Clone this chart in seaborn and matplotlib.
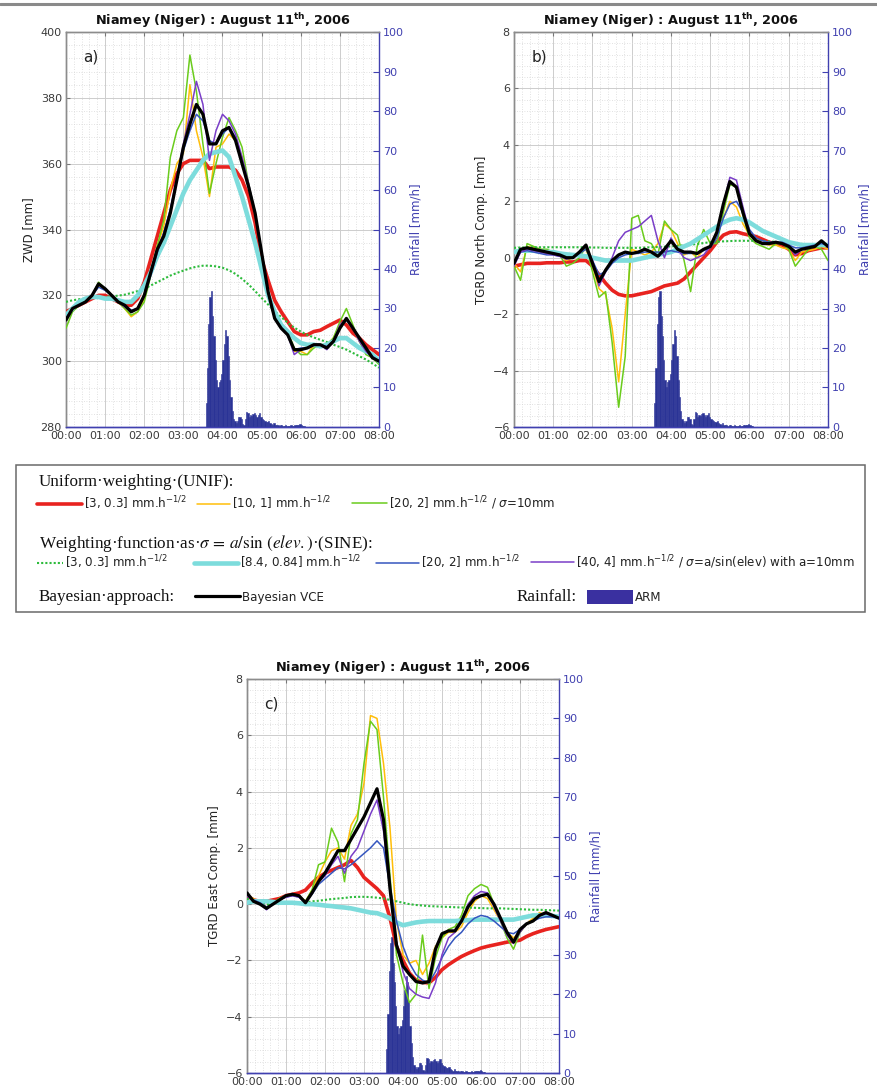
import numpy as np
import matplotlib
matplotlib.use("Agg")
import matplotlib.pyplot as plt
from matplotlib.lines import Line2D
from matplotlib.patches import Patch, Rectangle
from matplotlib.ticker import MultipleLocator, AutoMinorLocator, FuncFormatter
import seaborn as sns

# ---------------------------------------------------------------------------
# Data: GPS tropospheric estimates every 10 minutes (hours after 00:00 UTC)
# ---------------------------------------------------------------------------
minutes = np.arange(0, 481, 10)
hours = minutes / 60.0

# a) zenith wet delay [mm]
zwd_unif_3 = [315, 316, 317, 318, 319, 320,
              320, 319, 318, 317, 317, 319,
              324, 331, 338, 345, 352, 357,
              360, 361, 361, 361, 358.5, 359,
              359, 359, 358, 355, 350, 342,
              331, 324.5, 318.5, 315, 312, 309,
              308, 308, 309, 309.4, 310.5, 311.5,
              312.5, 311, 308.5, 307, 305, 303.5,
              302]
zwd_unif_10 = [313, 316, 317, 318, 320, 323,
               322, 320, 318, 316, 313.5, 315,
               319, 327, 335, 341, 352, 360,
               363, 384, 370, 362, 350, 365,
               366, 369, 367, 362, 353, 345,
               333, 321, 313, 310, 308, 303,
               303, 302, 305, 305, 305, 307,
               311, 313, 310, 306, 303, 301,
               300]
zwd_unif_20 = [310, 315, 317, 318, 320, 324,
               322, 320, 318, 316, 314, 315,
               318, 326, 335, 343, 362, 370,
               374, 393, 382, 366, 351, 360,
               368, 374, 370, 365, 354, 345,
               333, 320, 313, 310, 309, 304,
               302, 302, 304, 305, 305, 307,
               312, 316, 311, 306, 302, 301,
               299]
zwd_sine_3 = [318, 318.5, 318.8, 319, 319.2, 319.4,
              319.5, 319.7, 319.9, 320.2, 320.7, 321.3,
              322, 323, 324, 325, 326, 326.8,
              327.5, 328.2, 328.7, 329, 329, 328.8,
              328.4, 327.6, 326.5, 325, 323.3, 321.3,
              319.2, 317.2, 315.2, 313.4, 311.7, 310.2,
              309, 308, 307.2, 306.5, 305.8, 305,
              304.3, 303.5, 302.5, 301.5, 300.5, 299.3,
              298]
zwd_sine_84 = [314, 316, 318, 319, 319.5, 319.5,
               319, 319, 318.5, 318, 318, 320,
               323, 327, 332, 336, 341, 346,
               351, 355, 358, 361, 363, 363.5,
               364, 362, 356, 350, 343, 336,
               328, 320, 315, 311, 309, 307,
               305.5, 305, 305, 304.5, 305, 306,
               307, 307, 305.5, 304, 303, 302,
               300]
zwd_sine_20 = [313, 316, 317, 318, 320, 322.5,
               321.5, 320, 318, 317, 315.5, 316,
               320, 326, 333, 339, 346, 355,
               364, 370, 375, 373, 367, 366,
               369, 371, 368, 361, 353, 345,
               333, 321, 313, 310, 308, 303.5,
               304, 304, 305, 305, 304.5, 306,
               310, 312.5, 310, 307, 304, 301.5,
               300]
zwd_sine_40 = [313, 316, 317, 318, 320, 323.5,
               322, 320, 318, 316.5, 315, 316,
               320, 327, 334, 339, 346, 356,
               366, 375, 385, 378, 361, 370,
               375, 373, 369, 362, 354, 345,
               333, 321, 313, 310, 308, 302,
               303.5, 304, 305, 305, 303.5, 306,
               311, 313, 310, 306, 303, 301,
               300]
zwd_bayes = [312.5, 316, 317, 318, 320, 323.5,
             322, 320, 318, 317, 315, 316,
             320, 327, 334, 338, 345, 355,
             365, 372, 378, 375, 366, 366,
             370, 371, 367, 360, 353, 345,
             333, 321, 313, 310, 308, 303.5,
             303.5, 304, 305, 305, 304, 306,
             310, 313, 310, 307, 304, 301,
             300]

# b) north gradient component [mm]
north_unif_3 = [-0.3, -0.25, -0.2, -0.2, -0.2, -0.18,
                -0.18, -0.18, -0.15, -0.15, -0.1, -0.1,
                -0.3, -0.6, -0.9, -1.15, -1.3, -1.35,
                -1.35, -1.3, -1.25, -1.2, -1.1, -1.0,
                -0.95, -0.9, -0.75, -0.5, -0.25, 0.0,
                0.25, 0.55, 0.8, 0.9, 0.92, 0.85,
                0.8, 0.75, 0.65, 0.55, 0.5, 0.45,
                0.3, 0.1, 0.15, 0.25, 0.3, 0.35,
                0.35]
north_unif_10 = [-0.2, -0.5, 0.4, 0.35, 0.3, 0.2,
                 0.15, 0.1, -0.1, 0.0, 0.15, 0.3,
                 -0.3, -1.1, -1.3, -2.5, -4.4, -2.0,
                 0.3, 0.2, 0.1, 0.2, 0.5, 1.2,
                 1.0, 0.5, 0.1, 0.2, 0.0, 0.3,
                 0.4, 0.8, 1.4, 2.0, 1.8, 1.2,
                 0.8, 0.7, 0.5, 0.45, 0.45, 0.35,
                 0.3, -0.1, 0.2, 0.25, 0.3, 0.4,
                 0.3]
north_unif_20 = [-0.3, -0.8, 0.5, 0.4, 0.3, 0.3,
                 0.2, 0.1, -0.3, -0.2, 0.0, 0.4,
                 -0.5, -1.4, -1.2, -3.0, -5.3, -3.5,
                 1.4, 1.5, 0.6, 0.5, 0.1, 1.3,
                 1.0, 0.8, -0.1, -1.2, 0.4, 1.0,
                 0.5, 0.5, 1.6, 2.6, 2.5, 1.5,
                 0.7, 0.5, 0.4, 0.3, 0.5, 0.5,
                 0.3, -0.3, 0.0, 0.3, 0.4, 0.3,
                 -0.1]
north_sine_3 = [0.35, 0.36, 0.37, 0.37, 0.37, 0.37,
                0.37, 0.37, 0.37, 0.37, 0.37, 0.37,
                0.36, 0.36, 0.35, 0.35, 0.35, 0.35,
                0.35, 0.35, 0.36, 0.37, 0.38, 0.39,
                0.4, 0.42, 0.44, 0.46, 0.49, 0.52,
                0.55, 0.57, 0.58, 0.59, 0.6, 0.6,
                0.6, 0.6, 0.59, 0.58, 0.56, 0.54,
                0.52, 0.5, 0.49, 0.47, 0.46, 0.45,
                0.45]
north_sine_84 = [0.2, 0.25, 0.25, 0.25, 0.22, 0.2,
                 0.2, 0.15, 0.12, 0.1, 0.08, 0.05,
                 0.0, -0.05, -0.1, -0.1, -0.1, -0.1,
                 -0.1, -0.05, 0.0, 0.05, 0.1, 0.15,
                 0.2, 0.3, 0.4, 0.5, 0.65, 0.8,
                 0.95, 1.1, 1.25, 1.35, 1.4, 1.35,
                 1.25, 1.1, 0.95, 0.85, 0.75, 0.65,
                 0.55, 0.5, 0.45, 0.45, 0.45, 0.45,
                 0.45]
north_sine_20 = [-0.2, 0.2, 0.25, 0.2, 0.15, 0.1,
                 0.1, 0.05, 0.0, 0.0, 0.15, 0.3,
                 -0.1, -0.6, -0.5, -0.2, 0.0, 0.1,
                 0.15, 0.15, 0.2, 0.2, 0.2, 0.2,
                 0.25, 0.2, 0.15, 0.15, 0.15, 0.25,
                 0.35, 0.7, 1.4, 1.9, 2.0, 1.6,
                 1.0, 0.7, 0.6, 0.55, 0.55, 0.55,
                 0.45, 0.35, 0.35, 0.4, 0.45, 0.5,
                 0.45]
north_sine_40 = [-0.3, 0.2, 0.3, 0.25, 0.2, 0.15,
                 0.1, 0.05, -0.05, 0.0, 0.2, 0.4,
                 -0.1, -1.0, -0.5, 0.0, 0.6, 0.9,
                 1.0, 1.1, 1.3, 1.5, 0.6, 0.0,
                 0.7, 0.3, 0.0, -0.1, 0.0, 0.1,
                 0.4, 0.9, 1.9, 2.85, 2.75, 1.8,
                 0.9, 0.6, 0.5, 0.5, 0.55, 0.5,
                 0.4, 0.1, 0.3, 0.35, 0.4, 0.6,
                 0.4]
north_bayes = [-0.2, 0.3, 0.35, 0.3, 0.25, 0.2,
               0.15, 0.1, 0.0, 0.0, 0.2, 0.45,
               -0.2, -0.85, -0.44, -0.1, 0.1, 0.2,
               0.15, 0.2, 0.3, 0.2, 0.05, 0.3,
               0.6, 0.3, 0.2, 0.2, 0.15, 0.3,
               0.4, 0.9, 1.9, 2.7, 2.5, 1.6,
               0.85, 0.6, 0.5, 0.5, 0.55, 0.5,
               0.4, 0.2, 0.3, 0.35, 0.4, 0.6,
               0.4]

# c) east gradient component [mm]
east_unif_3 = [0.3, 0.15, 0.1, 0.1, 0.15, 0.2,
               0.3, 0.35, 0.4, 0.5, 0.75, 0.95,
               1.1, 1.2, 1.3, 1.4, 1.55, 1.3,
               0.95, 0.75, 0.55, 0.3, -0.5, -1.5,
               -2.0, -2.45, -2.7, -2.78, -2.8, -2.6,
               -2.33, -2.15, -2.0, -1.86, -1.75, -1.65,
               -1.56, -1.5, -1.45, -1.4, -1.35, -1.32,
               -1.28, -1.15, -1.05, -0.97, -0.9, -0.85,
               -0.8]
east_unif_10 = [0.3, 0.2, 0.0, -0.1, 0.0, 0.2,
                0.3, 0.35, 0.3, 0.1, 0.5, 1.0,
                1.5, 1.9, 2.0, 1.6, 2.8, 3.2,
                4.3, 6.7, 6.6, 5.0, 2.7, -0.6,
                -1.8, -2.1, -2.0, -2.5, -2.1, -1.5,
                -1.2, -1.0, -1.0, -0.8, -0.3, 0.1,
                0.3, 0.2, -0.2, -0.6, -1.0, -1.2,
                -1.0, -0.7, -0.5, -0.3, -0.4, -0.4,
                -0.5]
east_unif_20 = [0.3, 0.15, 0.0, -0.1, 0.05, 0.2,
                0.3, 0.35, 0.3, 0.1, 0.5, 1.4,
                1.5, 2.7, 2.2, 0.8, 2.5, 3.0,
                5.0, 6.5, 6.2, 3.8, 1.0, -1.8,
                -2.8, -3.5, -3.2, -1.1, -3.0, -1.9,
                -1.2, -0.9, -0.8, -0.4, 0.3, 0.55,
                0.7, 0.6, 0.0, -0.6, -1.2, -1.6,
                -1.0, -0.7, -0.6, -0.4, -0.3, -0.4,
                -0.5]
east_sine_3 = [0.2, 0.1, 0.05, 0.0, 0.02, 0.05,
               0.05, 0.05, 0.05, 0.05, 0.1, 0.12,
               0.15, 0.18, 0.2, 0.22, 0.25, 0.26,
               0.26, 0.25, 0.23, 0.2, 0.15, 0.1,
               0.05, 0.0, -0.03, -0.05, -0.07, -0.08,
               -0.09, -0.1, -0.11, -0.12, -0.12, -0.13,
               -0.14, -0.15, -0.15, -0.15, -0.16, -0.17,
               -0.18, -0.19, -0.2, -0.2, -0.21, -0.22,
               -0.23]
east_sine_84 = [0.05, 0.1, 0.1, 0.1, 0.08, 0.05,
                0.05, 0.05, 0.03, 0.0, 0.0, -0.02,
                -0.05, -0.07, -0.1, -0.12, -0.15, -0.2,
                -0.25, -0.3, -0.32, -0.4, -0.5, -0.65,
                -0.75, -0.7, -0.65, -0.62, -0.6, -0.6,
                -0.6, -0.6, -0.6, -0.58, -0.57, -0.55,
                -0.55, -0.55, -0.55, -0.55, -0.55, -0.55,
                -0.5, -0.45, -0.4, -0.4, -0.4, -0.42,
                -0.45]
east_sine_20 = [0.3, 0.15, 0.05, -0.1, 0.0, 0.15,
                0.25, 0.3, 0.25, 0.05, 0.35, 0.7,
                0.9, 1.1, 1.3, 1.25, 1.4, 1.6,
                1.8, 2.0, 2.25, 2.0, 0.6, -0.6,
                -1.5, -2.1, -2.5, -2.7, -2.8, -2.4,
                -1.9, -1.5, -1.2, -1.0, -0.7, -0.5,
                -0.4, -0.45, -0.6, -0.8, -1.0, -1.05,
                -0.9, -0.7, -0.6, -0.5, -0.45, -0.45,
                -0.5]
east_sine_40 = [0.3, 0.1, 0.0, -0.2, 0.0, 0.15,
                0.25, 0.3, 0.25, 0.05, 0.4, 0.8,
                1.0, 1.4, 1.7, 1.1, 1.7, 2.0,
                2.6, 3.2, 3.7, 2.6, 0.5, -1.4,
                -2.4, -3.0, -3.2, -3.3, -3.35, -2.8,
                -1.8, -1.2, -1.0, -0.6, 0.0, 0.3,
                0.45, 0.4, -0.1, -0.6, -1.1, -1.4,
                -1.0, -0.7, -0.6, -0.4, -0.35, -0.4,
                -0.5]
east_bayes = [0.4, 0.1, 0.0, -0.15, 0.0, 0.15,
              0.3, 0.35, 0.3, 0.05, 0.4, 0.8,
              1.1, 1.5, 1.9, 1.9, 2.3, 2.7,
              3.1, 3.6, 4.1, 3.0, 0.55, -1.45,
              -2.2, -2.5, -2.75, -2.8, -2.75, -1.6,
              -1.05, -0.95, -0.95, -0.6, -0.1, 0.2,
              0.3, 0.35, 0.0, -0.5, -1.0, -1.35,
              -0.9, -0.7, -0.6, -0.4, -0.3, -0.4,
              -0.5]

# ARM rain gauge, 2-minute rain rate [mm/h] starting at 03:32
rain_minutes = np.arange(212, 368, 2)
rain_rate = [0, 6, 15, 26, 33, 34.5, 28, 23, 17, 12,
             10, 11.5, 12, 13.5, 17, 21, 24.5, 23, 18, 12,
             7.5, 4, 2, 1.5, 1, 1.5, 2.5, 2.6, 2, 0.8,
             0.5, 2, 3.8, 3.5, 2.5, 3, 2.8, 3.2, 3.5, 3,
             2.5, 3, 3.5, 2.6, 2, 1.8, 1.5, 1.3, 1.2, 1.5,
             1.0, 0.7, 0.6, 0.9, 0.5, 0.4, 0.4, 0.3, 0.5, 0.4,
             0.3, 0.3, 0.4, 0.3, 0.3, 0.3, 0.4, 0.3, 0.3, 0.4,
             0.5, 0.5, 0.6, 0.8, 0.5, 0.3, 0.2, 0.1]
rain_hours = rain_minutes / 60.0

hour_labels = ["00:00", "01:00", "02:00", "03:00", "04:00",
               "05:00", "06:00", "07:00", "08:00"]

# ---------------------------------------------------------------------------
# Styling
# ---------------------------------------------------------------------------
sns.set_theme(style="white")
plt.rcParams["font.family"] = ["DejaVu Sans"]
plt.rcParams["mathtext.fontset"] = "dejavusans"

W, H = 878, 1092
RAIN_BLUE = "#2a3396"
AXIS_BLUE = "#4040b0"
TICK_GREY = "#3a3a3a"

styles = {
    "unif_3":  dict(color="#e8231f", lw=2.6, ls="-"),
    "unif_10": dict(color="#ffbe0a", lw=1.1, ls="-"),
    "unif_20": dict(color="#6acc1c", lw=1.1, ls="-"),
    "sine_3":  dict(color="#2dbb3c", lw=1.5, ls=(0, (1, 1))),
    "sine_84": dict(color="#7ddcdc", lw=3.3, ls="-"),
    "sine_20": dict(color="#3556bf", lw=1.1, ls="-"),
    "sine_40": dict(color="#7a3ec8", lw=1.1, ls="-"),
    "bayes":   dict(color="black", lw=2.3, ls="-"),
}
draw_order = ["unif_3", "unif_10", "unif_20", "sine_3", "sine_84",
              "sine_20", "sine_40", "bayes"]

panels = [
    dict(rect=(66, 32, 379, 427), tag="a)", ylabel="ZWD [mm]",
         ylim=(280, 400), major=20,
         series=dict(unif_3=zwd_unif_3, unif_10=zwd_unif_10, unif_20=zwd_unif_20,
                     sine_3=zwd_sine_3, sine_84=zwd_sine_84, sine_20=zwd_sine_20,
                     sine_40=zwd_sine_40, bayes=zwd_bayes)),
    dict(rect=(514, 32, 828, 427), tag="b)", ylabel="TGRD North Comp. [mm]",
         ylim=(-6, 8), major=2,
         series=dict(unif_3=north_unif_3, unif_10=north_unif_10, unif_20=north_unif_20,
                     sine_3=north_sine_3, sine_84=north_sine_84, sine_20=north_sine_20,
                     sine_40=north_sine_40, bayes=north_bayes)),
    dict(rect=(247, 679, 559, 1073), tag="c)", ylabel="TGRD East Comp. [mm]",
         ylim=(-6, 8), major=2,
         series=dict(unif_3=east_unif_3, unif_10=east_unif_10, unif_20=east_unif_20,
                     sine_3=east_sine_3, sine_84=east_sine_84, sine_20=east_sine_20,
                     sine_40=east_sine_40, bayes=east_bayes)),
]

fig = plt.figure(figsize=(W / 100, H / 100), dpi=100)
fig.patch.set_facecolor("white")

# thin rule at the top of the page
fig.add_artist(Line2D([0, 1], [1 - 3.5 / H, 1 - 3.5 / H], transform=fig.transFigure,
                      color="#8a8a8a", lw=2.2))

for p in panels:
    x0, y0, x1, y1 = p["rect"]
    rect = [x0 / W, 1 - y1 / H, (x1 - x0) / W, (y1 - y0) / H]

    # base axes: grid, left axis and time axis
    base = fig.add_axes(rect)
    base.set_zorder(0)
    base.set_xlim(0, 8)
    base.set_ylim(*p["ylim"])
    base.xaxis.set_major_locator(MultipleLocator(1))
    base.xaxis.set_major_formatter(FuncFormatter(
        lambda v, pos: hour_labels[int(round(v))] if 0 <= round(v) <= 8 else ""))
    base.xaxis.set_minor_locator(AutoMinorLocator(5))
    base.yaxis.set_major_locator(MultipleLocator(p["major"]))
    base.yaxis.set_minor_locator(AutoMinorLocator(5))
    base.grid(which="major", color="#cdcdcd", lw=0.7)
    base.grid(which="minor", color="#d8d8d8", lw=0.6, ls=(0, (1, 2)))
    base.tick_params(which="major", direction="in", length=3, width=0.8,
                     top=True, right=False, colors="#777777",
                     labelcolor=TICK_GREY, labelsize=8, pad=3)
    base.tick_params(which="minor", length=0)
    base.set_ylabel(p["ylabel"], fontsize=8.5, color="#222222", labelpad=4)
    base.set_title("Niamey (Niger) : August 11$^{\\mathbf{th}}$, 2006",
                   fontsize=9.3, fontweight="bold", color="#111111", pad=5)
    for sp in base.spines.values():
        sp.set_linewidth(1.0)
        sp.set_color("#8c8c8c")
    base.spines["bottom"].set_color(AXIS_BLUE)
    base.spines["right"].set_visible(False)

    # rainfall on the right-hand axis, above the grid
    ax2 = base.twinx()
    ax2.set_zorder(1)
    ax2.patch.set_visible(False)
    ax2.bar(rain_hours, rain_rate, width=2 / 60, align="edge",
            color=RAIN_BLUE, edgecolor=RAIN_BLUE, linewidth=0.4)
    ax2.set_ylim(0, 100)
    ax2.yaxis.set_major_locator(MultipleLocator(10))
    ax2.tick_params(axis="y", direction="in", length=4, width=0.8,
                    colors=AXIS_BLUE, labelsize=8, pad=3)
    ax2.set_ylabel("Rainfall [mm/h]", color=AXIS_BLUE, fontsize=8.5, labelpad=4)
    for sp in ax2.spines.values():
        sp.set_linewidth(1.0)
        sp.set_color("#8c8c8c")
    ax2.spines["right"].set_color(AXIS_BLUE)
    ax2.spines["bottom"].set_color(AXIS_BLUE)

    # estimates on top of everything
    ax = fig.add_axes(rect, sharex=base, sharey=base)
    ax.set_zorder(2)
    ax.patch.set_visible(False)
    for key in draw_order:
        st = styles[key]
        sns.lineplot(x=hours, y=p["series"][key], ax=ax, color=st["color"],
                     linewidth=st["lw"], linestyle=st["ls"], legend=False,
                     errorbar=None, sort=False, solid_joinstyle="round")
    ax.set_xlim(0, 8)
    ax.set_ylim(*p["ylim"])
    ax.axis("off")
    ax.text(0.055, 0.955, p["tag"], transform=ax.transAxes, fontsize=11,
            ha="left", va="top", color="#222222")

# ---------------------------------------------------------------------------
# Shared legend block between the panels
# ---------------------------------------------------------------------------
box_l, box_t, box_r, box_b = 16, 465, 865, 612
fig.add_artist(Rectangle((box_l / W, 1 - box_b / H), (box_r - box_l) / W,
                         (box_b - box_t) / H, transform=fig.transFigure,
                         fill=False, edgecolor="#6a6a6a", lw=1.1))

SERIF = ["Liberation Serif", "DejaVu Serif"]
HEAD_FS = 12.3
fig.text(39 / W, 1 - 482 / H, "Uniform·weighting·(UNIF):", family=SERIF,
         fontsize=HEAD_FS, va="center", ha="left", color="#111111")
fig.text(39 / W, 1 - 543 / H,
         "Weighting·function·as·$\\sigma\\,=\\,a/\\sin\\,(elev.)$·(SINE):",
         family=SERIF, math_fontfamily="stix", fontsize=HEAD_FS, va="center",
         ha="left", color="#111111")
fig.text(39 / W, 1 - 597 / H, "Bayesian·approach:", family=SERIF,
         fontsize=HEAD_FS, va="center", ha="left", color="#111111")
fig.text(517 / W, 1 - 597 / H, "Rainfall:", family=SERIF,
         fontsize=HEAD_FS, va="center", ha="left", color="#111111")

KEY_FS = 8.6
KEY_PX = KEY_FS * 100 / 72


def key_entry(handle, label, x_px, y_px, length_px, height_px=None):
    kw = {}
    if height_px is not None:
        kw["handleheight"] = height_px / KEY_PX
    fig.legend([handle], [label], loc="center left",
               bbox_to_anchor=(x_px / W, 1 - y_px / H), frameon=False,
               fontsize=KEY_FS, handlelength=length_px / KEY_PX,
               handletextpad=0.2, borderpad=0, borderaxespad=0,
               labelcolor="#222222", **kw)


def line_handle(key):
    st = styles[key]
    return Line2D([], [], color=st["color"], lw=st["lw"], ls=st["ls"])


unit = "mm.h$^{-1/2}$"
key_entry(line_handle("unif_3"), f"[3, 0.3] {unit}", 37, 503, 45)
key_entry(line_handle("unif_10"), f"[10, 1] {unit}", 197, 503, 33)
key_entry(line_handle("unif_20"), f"[20, 2] {unit} / $\\sigma$=10mm", 352, 503, 35)
key_entry(line_handle("sine_3"), f"[3, 0.3] {unit}", 37, 562, 26)
key_entry(line_handle("sine_84"), f"[8.4, 0.84] {unit}", 194, 562, 44)
key_entry(line_handle("sine_20"), f"[20, 2] {unit}", 376, 562, 43)
key_entry(line_handle("sine_40"),
          f"[40, 4] {unit} / $\\sigma$=a/sin(elev) with a=10mm", 531, 562, 43)
key_entry(line_handle("bayes"), "Bayesian VCE", 195, 597, 45)
key_entry(Patch(facecolor="#3a30a0", edgecolor="none"), "ARM", 587, 597, 46, 16)

fig.savefig("out.png", dpi=100, facecolor="white")
